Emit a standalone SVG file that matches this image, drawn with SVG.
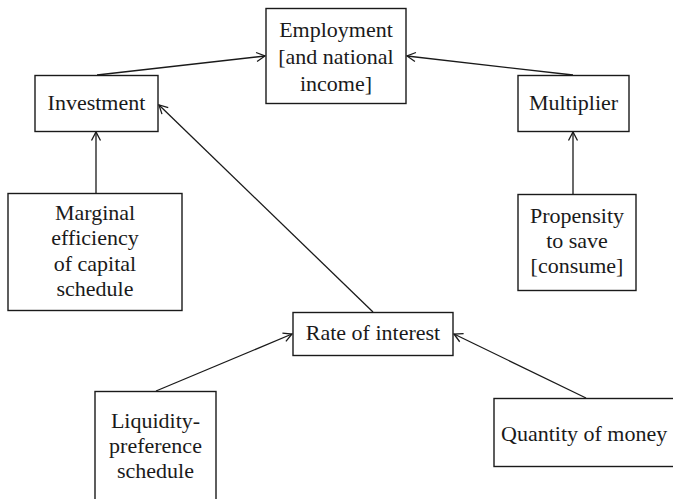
<svg xmlns="http://www.w3.org/2000/svg" width="673" height="499" viewBox="0 0 673 499">
<style>
.box{fill:#fff;stroke:#1a1a1a;stroke-width:1.4}
.lbl{font-family:"Liberation Serif","Times New Roman",serif;font-size:22px;fill:#1a1a1a;text-anchor:middle}
.con{stroke:#1a1a1a;stroke-width:1.3;fill:none;marker-end:url(#arr)}
</style>
<defs>
<marker id="arr" markerUnits="userSpaceOnUse" markerWidth="12" markerHeight="12" viewBox="0 0 12 12" refX="10" refY="6" orient="auto">
<path d="M1.5,1.5 L10,6 L1.5,10.5" fill="none" stroke="#1a1a1a" stroke-width="1.3"/>
</marker>
</defs>
<rect width="673" height="499" fill="#fff"/>
<g id="connectors">
<line class="con" x1="97" y1="75" x2="265" y2="56"/>
<line class="con" x1="573" y1="75" x2="407" y2="56"/>
<line class="con" x1="96" y1="193" x2="96" y2="132"/>
<line class="con" x1="573" y1="194" x2="573" y2="132"/>
<line class="con" x1="373" y1="312" x2="159" y2="105"/>
<line class="con" x1="156" y1="391" x2="292" y2="334"/>
<line class="con" x1="586" y1="398" x2="454" y2="334"/>
</g>
<g id="employment">
<rect class="box" x="266" y="8.5" width="140" height="95"/>
<text class="lbl" x="336" y="37">Employment</text>
<text class="lbl" x="336" y="64">[and national</text>
<text class="lbl" x="336" y="91">income]</text>
</g>
<g id="investment">
<rect class="box" x="35" y="75.5" width="123" height="56"/>
<text class="lbl" x="96.5" y="110">Investment</text>
</g>
<g id="multiplier">
<rect class="box" x="518" y="75.5" width="111" height="56"/>
<text class="lbl" x="573.5" y="110">Multiplier</text>
</g>
<g id="mec">
<rect class="box" x="8" y="193.5" width="174" height="117"/>
<text class="lbl" x="95" y="220">Marginal</text>
<text class="lbl" x="95" y="245">efficiency</text>
<text class="lbl" x="95" y="271">of capital</text>
<text class="lbl" x="95" y="296">schedule</text>
</g>
<g id="propensity">
<rect class="box" x="518" y="194.5" width="118" height="96"/>
<text class="lbl" x="577" y="223">Propensity</text>
<text class="lbl" x="577" y="248">to save</text>
<text class="lbl" x="577" y="273">[consume]</text>
</g>
<g id="rate">
<rect class="box" x="293" y="312.5" width="160" height="43"/>
<text class="lbl" x="373" y="340">Rate of interest</text>
</g>
<g id="liquidity">
<rect class="box" x="95" y="391.5" width="121" height="130"/>
<text class="lbl" x="155.5" y="428">Liquidity-</text>
<text class="lbl" x="155.5" y="453">preference</text>
<text class="lbl" x="155.5" y="478">schedule</text>
</g>
<g id="quantity">
<rect class="box" x="494" y="398.5" width="200" height="68"/>
<text class="lbl" x="501" y="441" style="text-anchor:start">Quantity of money</text>
</g>
</svg>
